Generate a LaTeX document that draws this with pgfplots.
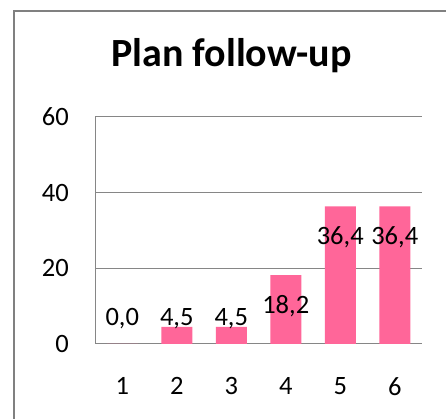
\documentclass[border=0pt]{standalone}
\usepackage{fontspec}
\setmainfont{Carlito}
\usepackage{pgfplots}
\pgfplotsset{compat=1.18}
\definecolor{barpink}{RGB}{255,102,153}
\definecolor{gridgray}{RGB}{134,134,134}
\definecolor{framegray}{RGB}{128,128,128}
\begin{document}
\begin{tikzpicture}[x=1pt,y=1pt]
\useasboundingbox (0,0) rectangle (446,419);
\fill[white] (0,0) rectangle (446,419);
\draw[line width=2.2pt, color=framegray] (14,-5) -- (14,408) -- (452,408);
\node[anchor=base, font=\bfseries\fontsize{40}{44}\selectfont] at (231.5,352) {Plan follow-up};
\begin{axis}[
  at={(95pt,75pt)}, anchor=south west,
  scale only axis, width=327pt, height=227pt,
  xmin=0.5, xmax=6.5, ymin=0, ymax=60,
  xtick={1,2,3,4,5,6}, ytick={0,20,40,60},
  axis lines*=left,
  axis line style={color=gridgray, line width=1pt},
  ymajorgrids, grid style={color=gridgray, line width=1pt},
  major tick length=0pt,
  /pgf/number format/assume math mode=true,
  tick label style={font=\fontsize{26.5}{30}\selectfont, inner sep=0pt},
  yticklabel style={anchor=east, xshift=-26pt},
  xticklabel style={anchor=north, yshift=-33pt},
  clip=false,
]
\addplot[ybar, bar width=31pt, fill=barpink, draw=none] coordinates {
  (1,0) (2,4.5) (3,4.5) (4,18.2) (5,36.4) (6,36.4)
};
\addplot[draw=none, mark=none, nodes near coords, point meta=explicit symbolic,
  nodes near coords style={anchor=base, inner sep=0pt, font=\fontsize{26.5}{30}\selectfont}]
  table[meta=label] {
x y label
1 4.76 {0,0}
2 4.76 {4,5}
3 4.76 {4,5}
4 8.1 {18,2}
5 26.2 {36,4}
6 26.2 {36,4}
};
\end{axis}
\end{tikzpicture}
\end{document}
